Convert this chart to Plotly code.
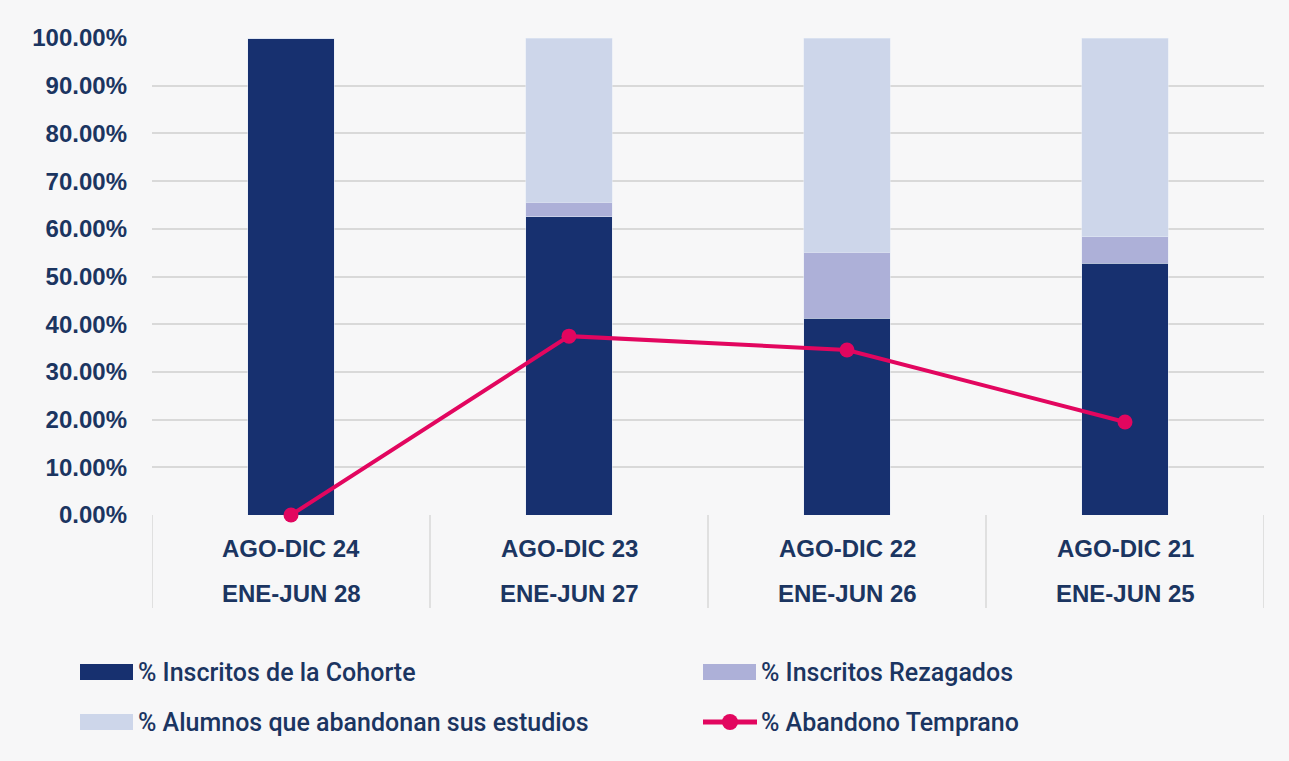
import plotly.graph_objects as go

# ---- data ----
periodo_inicio = ["AGO-DIC 24", "AGO-DIC 23", "AGO-DIC 22", "AGO-DIC 21"]
periodo_fin = ["ENE-JUN 28", "ENE-JUN 27", "ENE-JUN 26", "ENE-JUN 25"]
categorias = [f"{a} / {b}" for a, b in zip(periodo_inicio, periodo_fin)]

inscritos_cohorte = [100.0, 62.5, 41.3, 52.8]
inscritos_rezagados = [0.0, 3.1, 13.8, 5.5]
abandonan_estudios = [0.0, 34.4, 44.9, 41.7]
abandono_temprano = [0.0, 37.5, 34.6, 19.5]

y_ticks = [0, 10, 20, 30, 40, 50, 60, 70, 80, 90, 100]
y_ticktext = [f"{v:.2f}%" for v in y_ticks]

series_names = ["% Inscritos de la Cohorte", "% Inscritos Rezagados",
                "% Alumnos que abandonan sus estudios", "% Abandono Temprano"]

# ---- style ----
TXT = "#1b3561"
C_COH = "#17306f"
C_REZ = "#adb0d8"
C_ABA = "#cdd6ea"
C_LINE = "#e2065f"
GRID = "#d9d9d9"
FONT = "Liberation Sans"
LEG_FONT = "Roboto"

W, H = 1289, 761
L, R, T, B = 152, 25, 38, 246
plot_w = W - L - R
plot_h = H - T - B


def px(xpix):
    return (xpix - L) / plot_w


def py(ypix):
    return (H - B - ypix) / plot_h


fig = go.Figure()
fig.add_bar(x=categorias, y=inscritos_cohorte, name=series_names[0],
            marker_color=C_COH, width=0.31)
fig.add_bar(x=categorias, y=inscritos_rezagados, name=series_names[1],
            marker_color=C_REZ, width=0.31)
fig.add_bar(x=categorias, y=abandonan_estudios, name=series_names[2],
            marker_color=C_ABA, width=0.31)
fig.add_scatter(x=categorias, y=abandono_temprano, name=series_names[3],
                mode="lines+markers", line=dict(color=C_LINE, width=4),
                marker=dict(color=C_LINE, size=15), cliponaxis=False)

# two-row category labels
for cat, a, b in zip(categorias, periodo_inicio, periodo_fin):
    fig.add_annotation(x=cat, y=0, xref="x", yref="paper", yanchor="middle",
                       text=a, showarrow=False, yshift=-33,
                       font=dict(family=FONT, size=24, color=TXT, weight="bold"))
    fig.add_annotation(x=cat, y=0, xref="x", yref="paper", yanchor="middle",
                       text=b, showarrow=False, yshift=-78,
                       font=dict(family=FONT, size=24, color=TXT, weight="bold"))

# divider lines of the category table
for xv in [-0.5, 0.5, 1.5, 2.5, 3.5]:
    fig.add_shape(type="line", xref="x", yref="paper", x0=xv, x1=xv,
                  y0=0, y1=-93 / plot_h, line=dict(color=GRID, width=1.5))

# ---- legend (drawn by hand to match the wide swatches and spacing) ----
leg_items = [
    (series_names[0], "bar", C_COH, 80, 672),
    (series_names[1], "bar", C_REZ, 703, 672),
    (series_names[2], "bar", C_ABA, 80, 722),
    (series_names[3], "line", C_LINE, 703, 722),
]
for name, kind, col, x0, yc in leg_items:
    if kind == "bar":
        fig.add_shape(type="rect", xref="paper", yref="paper",
                      x0=px(x0), x1=px(x0 + 53), y0=py(yc - 8), y1=py(yc + 8),
                      fillcolor=col, line=dict(width=0))
    else:
        fig.add_shape(type="line", xref="paper", yref="paper",
                      x0=px(x0), x1=px(x0 + 54), y0=py(yc), y1=py(yc),
                      line=dict(color=col, width=5))
        fig.add_shape(type="circle", xref="paper", yref="paper",
                      x0=px(x0 + 27 - 8), x1=px(x0 + 27 + 8),
                      y0=py(yc - 8), y1=py(yc + 8),
                      fillcolor=col, line=dict(width=0))
    fig.add_annotation(x=px(x0 + 56), y=py(yc), xref="paper", yref="paper",
                       xanchor="left", yanchor="middle", text=name, showarrow=False,
                       font=dict(family=LEG_FONT, size=25, color=TXT, weight=500))

fig.update_layout(
    width=W, height=H,
    barmode="stack",
    showlegend=False,
    margin=dict(l=L, r=R, t=T, b=B),
    paper_bgcolor="#f7f7f8",
    plot_bgcolor="rgba(0,0,0,0)",
    font=dict(family=FONT, color=TXT),
    xaxis=dict(showticklabels=False, showgrid=False, zeroline=False,
               range=[-0.5, 3.5], fixedrange=True),
    yaxis=dict(range=[0, 100], tickvals=y_ticks, ticktext=y_ticktext,
               showgrid=True, gridcolor=GRID, gridwidth=1.5, zeroline=False,
               ticks="", ticklabelstandoff=24,
               tickfont=dict(family=FONT, size=24, color=TXT, weight="bold")),
)

fig.write_html("out.html", config={"displayModeBar": False},
               post_script="document.body.style.margin='0';document.body.style.overflow='hidden';")
